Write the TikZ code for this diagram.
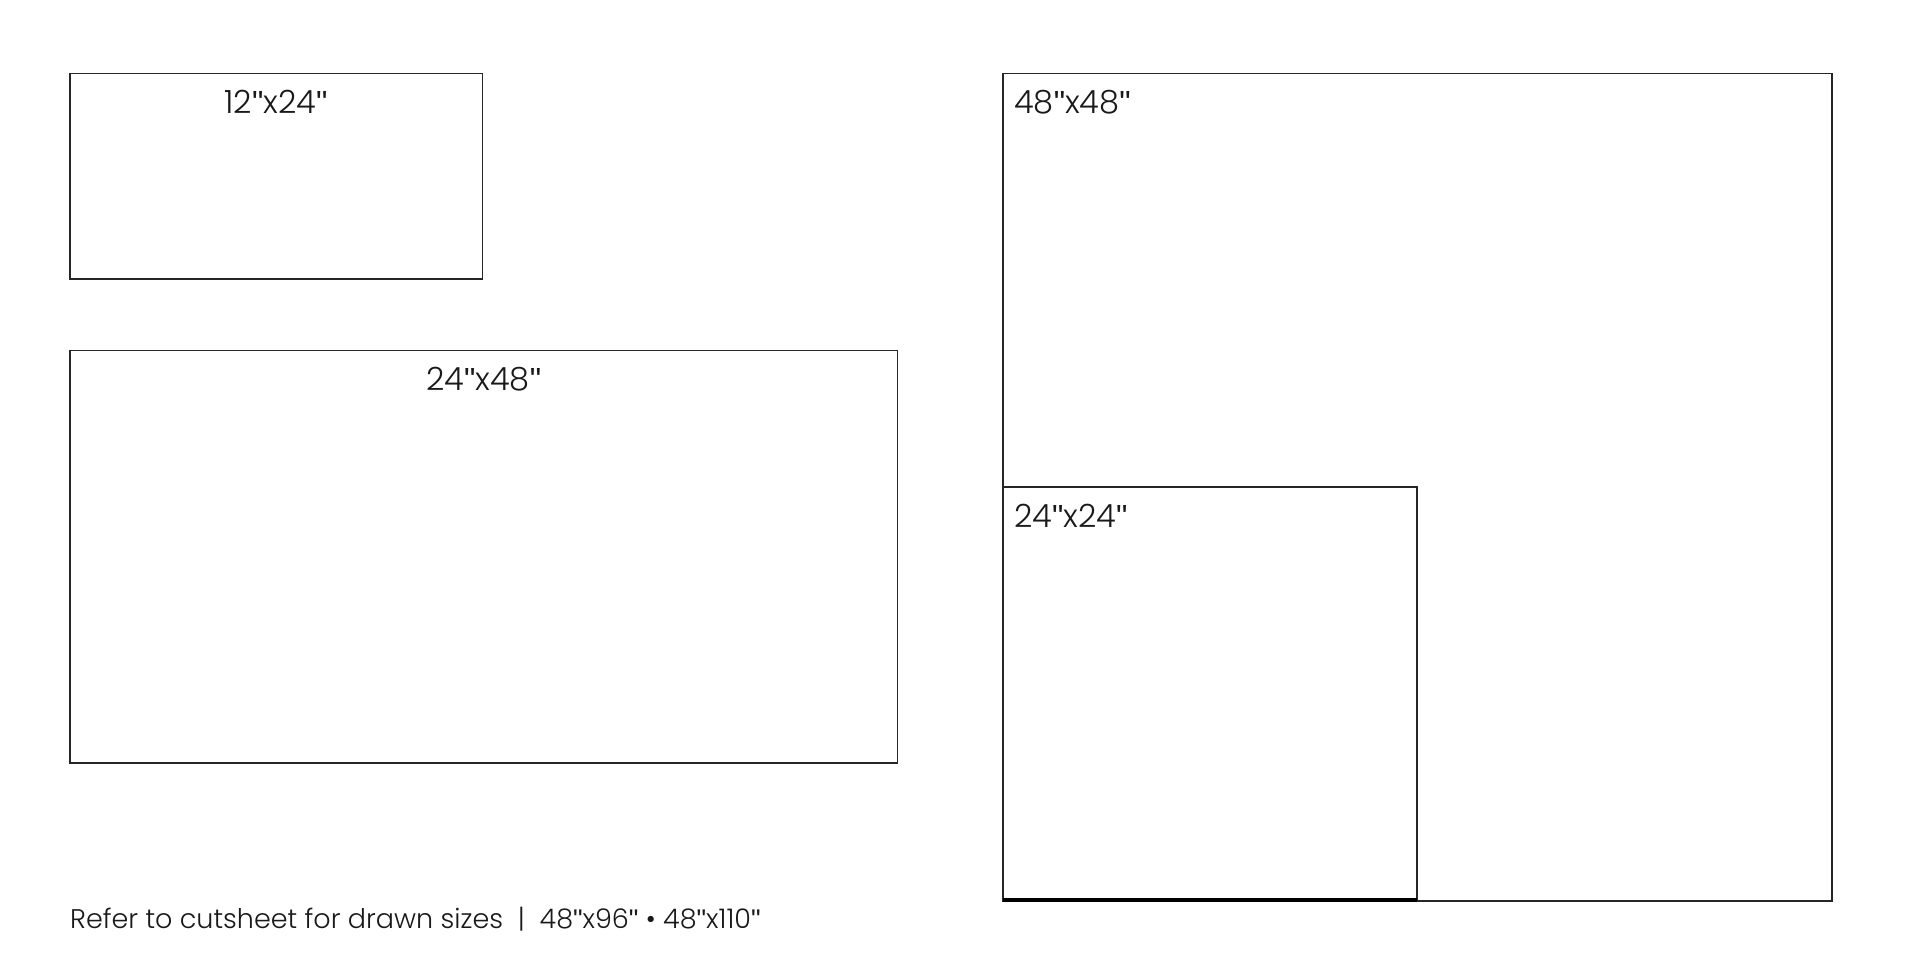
\documentclass[tikz,border=0pt]{standalone}
\usepackage{fontspec}
\setmainfont{Poppins}[UprightFont={* Light}]
\newfontfamily\qfont{Liberation Sans}
\newcommand{\qm}{{\qfont"}}
\begin{document}
\begin{tikzpicture}[x=1pt,y=-1pt,
  box/.style={draw=black!85, line width=1.6pt},
  lbl/.style={font=\fontsize{32}{36}\selectfont, text=black!90, inner sep=0pt},
  note/.style={font=\fontsize{27}{30}\selectfont, text=black!90, inner sep=0pt}]
\useasboundingbox (0,0) rectangle (1920,960);
% 12x24
\draw[box] (69.8,73.5) coordinate (a1) rectangle (482.5,279.2) coordinate (a2);
\node[lbl, anchor=base] (la) at (276,114) {12\qm x24\qm};
% 24x48
\draw[box] (69.8,350.3) coordinate (b1) rectangle (897.6,763) coordinate (b2);
\node[lbl, anchor=base] (lb) at (483.7,390.6) {24\qm x48\qm};
% 48x48
\draw[box] (1003,73.5) coordinate (c1) rectangle (1832,901) coordinate (c2);
\node[lbl, anchor=base west] (lc) at (1014,114) {48\qm x48\qm};
% 24x24
\draw[box] (1003,900) coordinate (d0) -- (1003,486.8) coordinate (d1) -- (1417,486.8) -- (1417,900) coordinate (d2);
\draw[draw=black, line width=3.2pt] (d0) -- (d2);
\node[lbl, anchor=base west] (ld) at (1014,527.5) {24\qm x24\qm};
% note
\node[note, anchor=base west] (lt) at (70,928) {Refer to cutsheet for drawn sizes~~|~~48\qm x96\qm~•~48\qm x110\qm};
\end{tikzpicture}
\end{document}
